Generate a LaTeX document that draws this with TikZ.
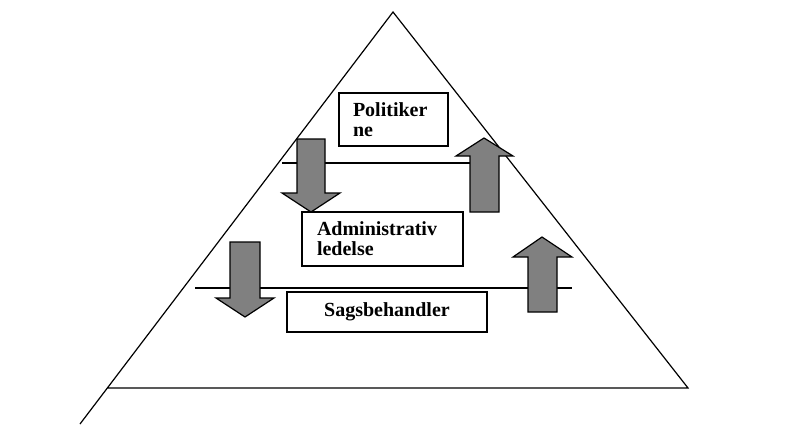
\documentclass[tikz,border=0pt]{standalone}
\usepackage{fontspec}
\setmainfont{Liberation Serif}

\begin{document}
\begin{tikzpicture}[x=0.75pt, y=-0.75pt, line width=0.9pt,
	font=\fontsize{15}{15}\selectfont\bfseries,
	level/.style={rectangle, draw, fill=white, inner ysep=0pt},
	flowarrow/.style={draw, fill=gray, line join=miter},]
	 \useasboundingbox (0,0) rectangle (787,424);

	 % Pyramide
	 \coordinate (apex) at (393,12);
	 \coordinate (foot) at (80,424);
	 \coordinate (baseright) at (688,388);
	 \coordinate (baseleft) at (107.3,388);
	 \draw (foot) -- (apex) -- (baseright) -- (baseleft);

	 % Niveaulinjer
	 \coordinate (l1a) at (282,163);
	 \coordinate (l1b) at (485,163);
	 \coordinate (l2a) at (195,288);
	 \coordinate (l2b) at (572,288);
	 \draw (l1a) -- (l1b);
	 \draw (l2a) -- (l2b);

	 % Pile
	 \draw[flowarrow] (297,139) -- (325,139) -- (325,193) -- (340,193) -- (311,212) -- (282,193) -- (297,193) -- cycle;
	 \draw[flowarrow] (470,212) -- (499,212) -- (499,156) -- (513,156) -- (484,138) -- (456,156) -- (470,156) -- cycle;
	 \draw[flowarrow] (230,242) -- (260,242) -- (260,298) -- (274,298) -- (245,317) -- (216,298) -- (230,298) -- cycle;
	 \draw[flowarrow] (528,312) -- (557,312) -- (557,257) -- (572,257) -- (542,237) -- (513,257) -- (528,257) -- cycle;

	 % Kasser
	 \node[level, text width=60.75pt, inner xsep=10.5pt, minimum height=39.75pt, align=left] (politikerne) at (393.5,119.5) {Politiker\\ne};
	 \node[level, text width=98.25pt, inner xsep=11.25pt, minimum height=40.5pt, align=left] (administration) at (382.5,239) {Administrativ\\ledelse};
	 \node[level, minimum width=150pt, minimum height=30pt] (sagsbehandler) at (387,312) {Sagsbehandler};
\end{tikzpicture}
\end{document}
